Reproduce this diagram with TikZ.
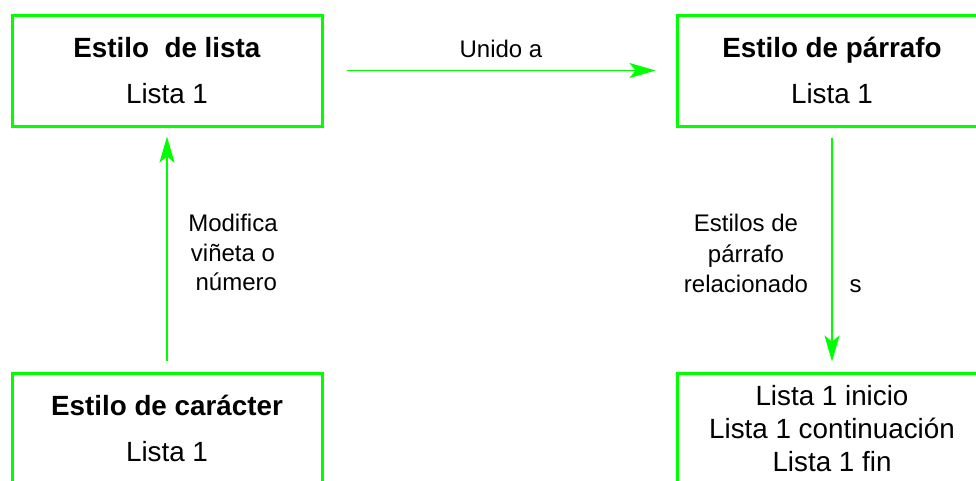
\documentclass[tikz,border=0pt]{standalone}
\usepackage{fontspec}
\setmainfont{Liberation Sans}
\usetikzlibrary{arrows.meta}
\definecolor{lgreen}{RGB}{0,255,0}
\begin{document}
\begin{tikzpicture}[x=1pt,y=-1pt]
  \tikzset{sbox/.style={draw=lgreen,line width=3pt,rectangle,minimum width=310pt,minimum height=111pt,
      align=center,font=\fontsize{27.8}{48}\selectfont},
    lbl/.style={align=center,font=\fontsize{24}{29.5}\selectfont,inner sep=0pt},
    arr/.style={draw=lgreen,line width=1.8pt,-{Stealth[length=26pt,width=15pt,inset=6pt]}}}
  \path[use as bounding box,clip] (0,0) rectangle (976,480);
  \node[sbox] (lista) at (167,70.5) {\textbf{Estilo\ \ de lista}\\[-2pt]Lista 1};
  \node[sbox] (parrafo) at (832,70.5) {\textbf{Estilo de párrafo}\\[-2pt]Lista 1};
  \node[sbox] (caracter) at (167,428.5) {\textbf{Estilo de carácter}\\[-2pt]Lista 1};
  \node[sbox,font=\fontsize{27.8}{33}\selectfont] (relac) at (832,428.5)
    {Lista 1 inicio\\Lista 1 continuación\\Lista 1 fin};
  \draw[arr] ([xshift=23pt]lista.east) -- ([xshift=-20pt]parrafo.west)
    node[lbl,midway,above=12pt] (unido) {Unido a};
  \draw[arr,shorten <=11pt,shorten >=9pt] (caracter.north) -- (lista.south);
  \draw[arr,shorten <=10pt,shorten >=10pt] (parrafo.south) -- (relac.north);
  \node[lbl] (modif) at (233,252.5) {Modifica\\viñeta o\\\ número};
  \node[lbl,font=\fontsize{24}{30.5}\selectfont] (relacl) at (746,253.5) {Estilos de\\párrafo\\relacionado};
  \node[lbl,anchor=base] (sufijo) at (855.5,292.5) {s};
\end{tikzpicture}
\end{document}
